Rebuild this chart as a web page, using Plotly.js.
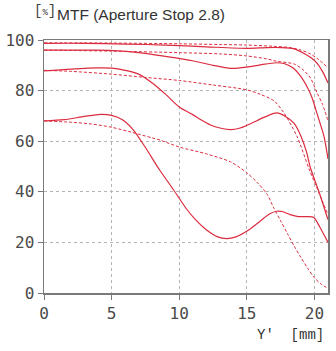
<!DOCTYPE html>
<html><head><meta charset="utf-8">
<script src="https://cdn.plot.ly/plotly-3.0.1.min.js"></script>
<style>html,body{margin:0;padding:0;background:#fff}#chart{width:336px;height:351px}</style>
</head><body><div id="chart"></div>
<script>
// X tick labels / Y tick labels
const xTicks = [0, 5, 10, 15, 20];
const yTicks = [0, 20, 40, 60, 80, 100];

// Series 1 (top) solid / dashed
const s1X = [0, 3, 6, 9, 12, 15, 16.5, 17.5, 18.5, 19.2, 19.8, 20.2, 20.6, 21];
const s1Y = [98.7, 98.7, 98.4, 98, 97.3, 96.7, 97, 97, 96.5, 94.8, 92.8, 90.8, 87.5, 83];
const d1X = [0, 5, 10, 13, 15, 17, 18.2, 19, 19.7, 20.3, 21];
const d1Y = [98.9, 98.8, 98.5, 98.2, 98, 97.5, 97, 96, 94.5, 92.3, 89];

// Series 2 solid / dashed
const s2X = [0, 2, 4, 5.5, 7, 9, 11, 12.5, 13.8, 15, 16, 17.2, 17.8, 18.4, 19, 19.5, 19.8, 20.3, 20.7, 21];
const s2Y = [96, 96, 96, 95.7, 95, 93.5, 91.8, 90, 88.8, 89.3, 90.2, 91, 90.6, 89, 85.5, 81, 77.5, 69, 62, 53];
const d2X = [0, 1.5, 5, 10, 13, 15, 16.5, 17.2, 18.5, 19.2, 19.7, 20.2, 20.6, 21];
const d2Y = [96, 95.9, 95.6, 95, 94.5, 93.7, 92.5, 91.6, 90.5, 88, 85, 79, 74.5, 68];

// Series 3 solid / dashed
const s3X = [0, 2, 4, 5, 6, 7, 8, 9, 10, 11, 11.6, 12.5, 13.8, 14.5, 15.3, 16.3, 17.2, 17.8, 18.5, 19, 19.4, 19.7, 20.3, 21];
const s3Y = [87.8, 88.5, 89, 88.9, 88, 86.5, 83, 78.5, 73.5, 70.5, 68.5, 66, 64.6, 65.2, 67, 69.5, 71.2, 70, 67, 62, 56, 49.5, 40.5, 29];
const d3X = [0, 2, 5, 7.5, 10, 12.5, 15, 16, 17, 17.7, 18.7, 19.6, 20.3, 21];
const d3Y = [88, 87.6, 86.5, 85.2, 84, 82.2, 80.3, 78.5, 76, 71.5, 62, 49, 40, 31];

// Series 4 (bottom) solid / dashed
const s4X = [0, 1.5, 3, 4.2, 5, 5.8, 6.6, 7.5, 8.5, 9.6, 10.5, 11.2, 12, 12.8, 13.5, 14.2, 15.1, 16, 16.7, 17.2, 17.6, 18.2, 18.8, 19.5, 19.95, 20.4, 21];
const s4Y = [68, 68.5, 69.8, 70.6, 70.2, 68.5, 64.5, 57.5, 49, 40.6, 33.5, 29, 25, 22.3, 21.5, 22.2, 24.8, 28.5, 31.3, 32.3, 32.2, 31, 30.2, 30.2, 29.8, 26, 20];
const d4X = [0, 2, 3.5, 5, 6.5, 8, 8.6, 10, 12, 13.8, 15, 15.8, 16.5, 17, 17.5, 18, 18.5, 19, 19.5, 20, 20.5, 21];
const d4Y = [68, 67.5, 66.8, 65.5, 63.5, 61.3, 60.4, 57.7, 55, 51.8, 47.5, 43.5, 39, 33.5, 28.5, 23.5, 18.5, 14, 9.8, 6, 3.5, 1.8];

const RED = '#dc2b3e';
function solid(x, y) { return {x, y, type: 'scatter', mode: 'lines', line: {color: RED, width: 1.2, shape: 'spline', smoothing: 0.8}, hoverinfo: 'skip'}; }
function dashed(x, y) { return {x, y, type: 'scatter', mode: 'lines', line: {color: RED, width: 1, dash: '3px,2px', shape: 'spline', smoothing: 0.8}, hoverinfo: 'skip'}; }

const data = [
  solid(s1X, s1Y), dashed(d1X, d1Y),
  solid(s2X, s2Y), dashed(d2X, d2Y),
  solid(s3X, s3Y), dashed(d3X, d3Y),
  solid(s4X, s4Y), dashed(d4X, d4Y)
];

const tickFont = {family: 'DejaVu Sans Mono', size: 16, color: '#4a4a4a'};
const axisCommon = {
  showgrid: true, gridcolor: '#b4b4b4', griddash: 'dot', gridwidth: 1,
  showline: true, linecolor: '#7a7a7a', linewidth: 1.5, mirror: true,
  ticks: 'outside', ticklen: 5, tickcolor: '#7a7a7a', tickwidth: 1,
  zeroline: false, tickfont: tickFont, fixedrange: true
};

const layout = {
  width: 336, height: 351,
  margin: {l: 44, r: 8, t: 40, b: 58},
  paper_bgcolor: '#fff', plot_bgcolor: '#fff',
  showlegend: false,
  title: {text: 'MTF (Aperture Stop 2.8)', x: 57/336, xanchor: 'left', xref: 'container',
          y: 1 - 15/351, yanchor: 'middle', yref: 'container',
          font: {family: 'Liberation Sans', size: 15.5, color: '#333'}},
  xaxis: Object.assign({}, axisCommon, {range: [0, 21], tickvals: xTicks, ticktext: xTicks.map(String)}),
  yaxis: Object.assign({}, axisCommon, {range: [0, 100], tickvals: yTicks, ticktext: yTicks.map(String)}),
  annotations: [
    {text: "[<span style='font-size:9px'>%</span>]", xref: 'paper', yref: 'paper', x: (45-44)/284, y: (293-11)/253,
     xanchor: 'center', yanchor: 'middle', showarrow: false,
     font: {family: 'Liberation Mono', size: 14, color: '#444'}},
    {text: "Y'\u00a0\u00a0[mm]", xref: 'paper', yref: 'paper', x: (326-44)/284, y: (293-335)/253,
     xanchor: 'right', yanchor: 'middle', showarrow: false,
     font: {family: 'Liberation Mono', size: 14, color: '#333'}}
  ]
};

Plotly.newPlot('chart', data, layout, {displayModeBar: false, staticPlot: true});
</script>
</body></html>
